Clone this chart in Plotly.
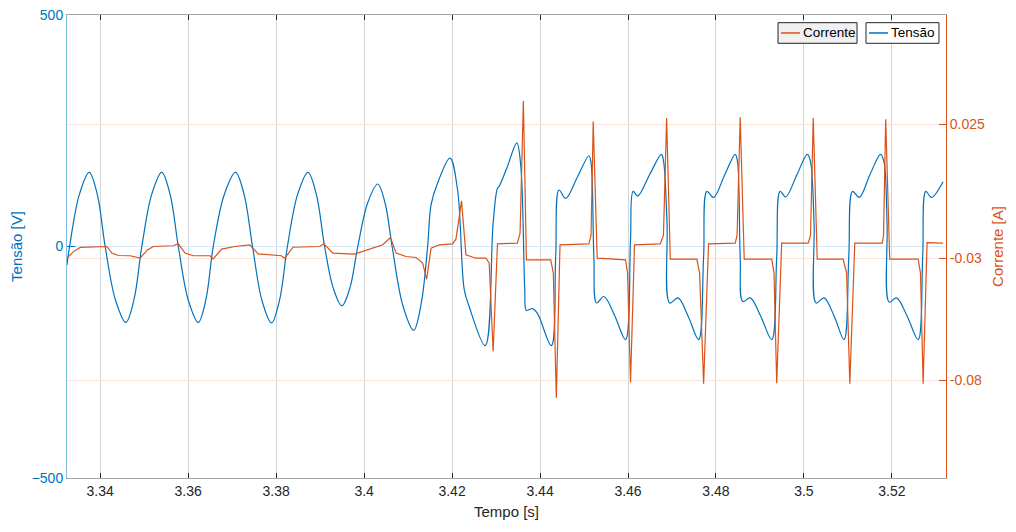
import plotly.graph_objects as go

# ---- Tensão [V] (left axis) ----
t_v = [3.33245, 3.33304, 3.33528, 3.33751, 3.33932, 3.34113, 3.34348, 3.34583,
       3.34765, 3.34946, 3.35172, 3.35399, 3.35588, 3.35776, 3.36003, 3.36229,
       3.36400, 3.36570, 3.36823, 3.37077, 3.37270, 3.37463, 3.37679, 3.37894,
       3.38075, 3.38256, 3.38490, 3.38724, 3.38913, 3.39102, 3.39299, 3.39495,
       3.39676, 3.39857, 3.40084, 3.40311, 3.40474, 3.40637, 3.40882, 3.41127,
       3.41300, 3.41444, 3.41522, 3.41671, 3.41953,
       3.42125, 3.42277, 3.42390, 3.42753, 3.42934, 3.43032, 3.43071, 3.43259,
       3.43472, 3.43563, 3.43653, 3.43690, 3.43826, 3.43939, 3.44257, 3.44356,
       3.44431, 3.44583, 3.44850, 3.45111, 3.45160, 3.45224, 3.45286, 3.45451,
       3.45700, 3.45943, 3.46057, 3.46116, 3.46222, 3.46490, 3.46760, 3.46810,
       3.46887, 3.46948, 3.47136, 3.47370, 3.47605, 3.47719, 3.47794, 3.47946,
       3.48200, 3.48438, 3.48490, 3.48551, 3.48610, 3.48778, 3.49020, 3.49268,
       3.49381, 3.49458, 3.49585, 3.49840, 3.50077, 3.50150, 3.50230, 3.50277,
       3.50457, 3.50690, 3.50911, 3.51020, 3.51106, 3.51258, 3.51500, 3.51741,
       3.51820, 3.51890, 3.51939, 3.52104, 3.52350, 3.52596, 3.52700, 3.52771,
       3.52898, 3.53163]
v_v = [-40, 0, 113, 160, 113, 0, -116, -164,
       -116, 0, 113, 160, 113, 0, -116, -164,
       -116, 0, 113, 160, 113, 0, -117, -165,
       -117, 0, 113, 160, 113, 0, -90, -128,
       -90, 0, 95, 135, 95, 0, -128, -181,
       -122, 0, 90, 137, 191,
       122, -93, -130, -214, 51, 126, 130, 173,
       224, 173, -93, -138, -134, -144, -214, -22,
       122, 104, 150, 196, 180, -22, -122, -108,
       -150, -201, 14, 119, 109, 155, 199, 183,
       51, -122, -111, -151, -201, -22, 119, 106,
       155, 199, 183, -22, -119, -111, -151, -201,
       -22, 119, 107, 155, 199, 183, 51, -122,
       -111, -151, -201, -22, 119, 106, 155, 199,
       183, 51, -120, -111, -151, -201, -22, 119,
       106, 140]

# ---- Corrente [A] (right axis) ----
t_i = [3.33245, 3.33394, 3.33546, 3.34152, 3.34265, 3.34415, 3.34680, 3.34907,
       3.35073, 3.35209, 3.35662, 3.35776, 3.35927, 3.36116, 3.36494, 3.36570,
       3.36760, 3.37061, 3.37401, 3.37590, 3.38120, 3.38195, 3.38383, 3.38988,
       3.39086, 3.39290, 3.39782, 3.40122, 3.40424, 3.40599, 3.40728, 3.40955,
       3.41181, 3.41331, 3.41422, 3.41522, 3.41710, 3.42011, 3.42088, 3.42215,
       3.42315, 3.42542, 3.42769, 3.42844, 3.42934, 3.43032, 3.43485, 3.43546,
       3.43621, 3.43690, 3.44243, 3.44302, 3.44370, 3.44454, 3.45111, 3.45160,
       3.45209, 3.45300, 3.45943, 3.45990, 3.46057, 3.46148, 3.46735, 3.46806,
       3.46878, 3.46962, 3.47565, 3.47628, 3.47719, 3.47832, 3.48438, 3.48480,
       3.48551, 3.48642, 3.49268, 3.49320, 3.49381, 3.49494, 3.50098, 3.50150,
       3.50211, 3.50302, 3.50891, 3.50970, 3.51043, 3.51156, 3.51782, 3.51810,
       3.51859, 3.51950, 3.52596, 3.52650, 3.52710, 3.52800, 3.53163]
i_v = [-0.0299, -0.0272, -0.0255, -0.0251, -0.0278, -0.0288, -0.0289, -0.0299,
       -0.0265, -0.0251, -0.0248, -0.0240, -0.0278, -0.0289, -0.0289, -0.0302,
       -0.0262, -0.0251, -0.0244, -0.0281, -0.0289, -0.0299, -0.0254, -0.0251,
       -0.0240, -0.0278, -0.0282, -0.0262, -0.0244, -0.0214, -0.0278, -0.0292,
       -0.0296, -0.0319, -0.0385, -0.0258, -0.0244, -0.0240, -0.0221, -0.0064,
       -0.0285, -0.0299, -0.0299, -0.0319, -0.0681, -0.0240, -0.0237, -0.0196,
       0.0345, -0.0306, -0.0306, -0.0360, -0.0872, -0.0244, -0.0240, -0.0205,
       0.0261, -0.0299, -0.0306, -0.0360, -0.0808, -0.0244, -0.0240, -0.0205,
       0.0275, -0.0303, -0.0303, -0.0360, -0.0813, -0.0240, -0.0237, -0.0205,
       0.0279, -0.0303, -0.0303, -0.0360, -0.0811, -0.0237, -0.0237, -0.0205,
       0.0275, -0.0303, -0.0303, -0.0360, -0.0813, -0.0237, -0.0237, -0.0205,
       0.0270, -0.0303, -0.0303, -0.0360, -0.0813, -0.0235, -0.0237]

x_ticks = [3.34, 3.36, 3.38, 3.40, 3.42, 3.44, 3.46, 3.48, 3.50, 3.52]
x_labels = ["3.34", "3.36", "3.38", "3.4", "3.42", "3.44", "3.46", "3.48", "3.5", "3.52"]
v_ticks = [-500, 0, 500]
i_ticks = [-0.08, -0.03, 0.025]
i_labels = ["-0.08", "-0.03", "0.025"]
legend_names = ["Corrente", "Tensão"]

BLUE = "#0072BD"
ORANGE = "#D95319"
FONT = "Liberation Sans"

fig = go.Figure()
fig.add_trace(go.Scatter(x=t_v, y=v_v, name="Tensão", mode="lines",
                         line=dict(color=BLUE, width=1.2, shape="spline", smoothing=1.0),
                         yaxis="y", showlegend=False))
fig.add_trace(go.Scatter(x=t_i, y=i_v, name="Corrente", mode="lines",
                         line=dict(color=ORANGE, width=1.2),
                         yaxis="y2", showlegend=False))

# legend boxes (MATLAB style: two boxed entries, Corrente with grey fill)
boxes = [  # x0, x1, sample x0, sample x1, text x, fill, line color
    (0.8089, 0.8988, 0.8123, 0.8339, 0.8350, "#f0f0f0", ORANGE),
    (0.9090, 0.9920, 0.9124, 0.9340, 0.9352, "#ffffff", BLUE),
]
shapes = []
annotations = []
for (bx0, bx1, sx0, sx1, tx, fill, lc), name in zip(boxes, legend_names):
    shapes.append(dict(type="rect", xref="paper", yref="paper", x0=bx0, x1=bx1,
                       y0=0.9389, y1=0.9834, fillcolor=fill,
                       line=dict(color="#262626", width=1), layer="above"))
    shapes.append(dict(type="line", xref="paper", yref="paper", x0=sx0, x1=sx1,
                       y0=0.9612, y1=0.9612, line=dict(color=lc, width=1.5), layer="above"))
    annotations.append(dict(xref="paper", yref="paper", x=tx, y=0.9612, text=name,
                            showarrow=False, xanchor="left", yanchor="middle",
                            font=dict(family=FONT, size=13.5, color="#000000")))

fig.update_layout(
    width=1008, height=524,
    margin=dict(l=59, r=70, t=7, b=54, autoexpand=False),
    paper_bgcolor="white", plot_bgcolor="white",
    font=dict(family=FONT, size=14, color="#262626"),
    shapes=shapes, annotations=annotations,
    xaxis=dict(range=[3.33245, 3.5323], tickvals=x_ticks, ticktext=x_labels,
               showgrid=True, gridcolor="#d4d4d4", gridwidth=1.2,
               showline=True, linecolor="#a6a6a6", linewidth=1, mirror="ticks",
               ticks="inside", ticklen=5, tickcolor="#262626",
               tickfont=dict(size=14, color="#262626"), automargin=False,
               ticklabeloverflow="allow",
               title=dict(text="Tempo [s]", font=dict(size=15, color="#262626"), standoff=8),
               zeroline=False),
    yaxis=dict(range=[-500, 500], tickvals=v_ticks, automargin=False,
               ticklabeloverflow="allow",
               showgrid=True, gridcolor="#d6e8f5", gridwidth=1,
               showline=True, linecolor="#7fbde6", linewidth=1,
               ticks="inside", ticklen=8, tickcolor=BLUE,
               tickfont=dict(size=14, color=BLUE),
               title=dict(text="Tensão [V]", font=dict(size=15, color=BLUE), standoff=6),
               zeroline=False),
    yaxis2=dict(range=[-0.11997, 0.06976], tickvals=i_ticks, ticktext=i_labels,
                overlaying="y", side="right", automargin=False,
                ticklabeloverflow="allow",
                showgrid=True, gridcolor="#fbe4da", gridwidth=1,
                showline=True, linecolor=ORANGE, linewidth=1,
                ticks="inside", ticklen=7, tickcolor=ORANGE,
                tickfont=dict(size=14, color=ORANGE),
                title=dict(text="Corrente [A]", font=dict(size=15, color=ORANGE), standoff=8),
                zeroline=False),
)

fig.write_html("out.html")
